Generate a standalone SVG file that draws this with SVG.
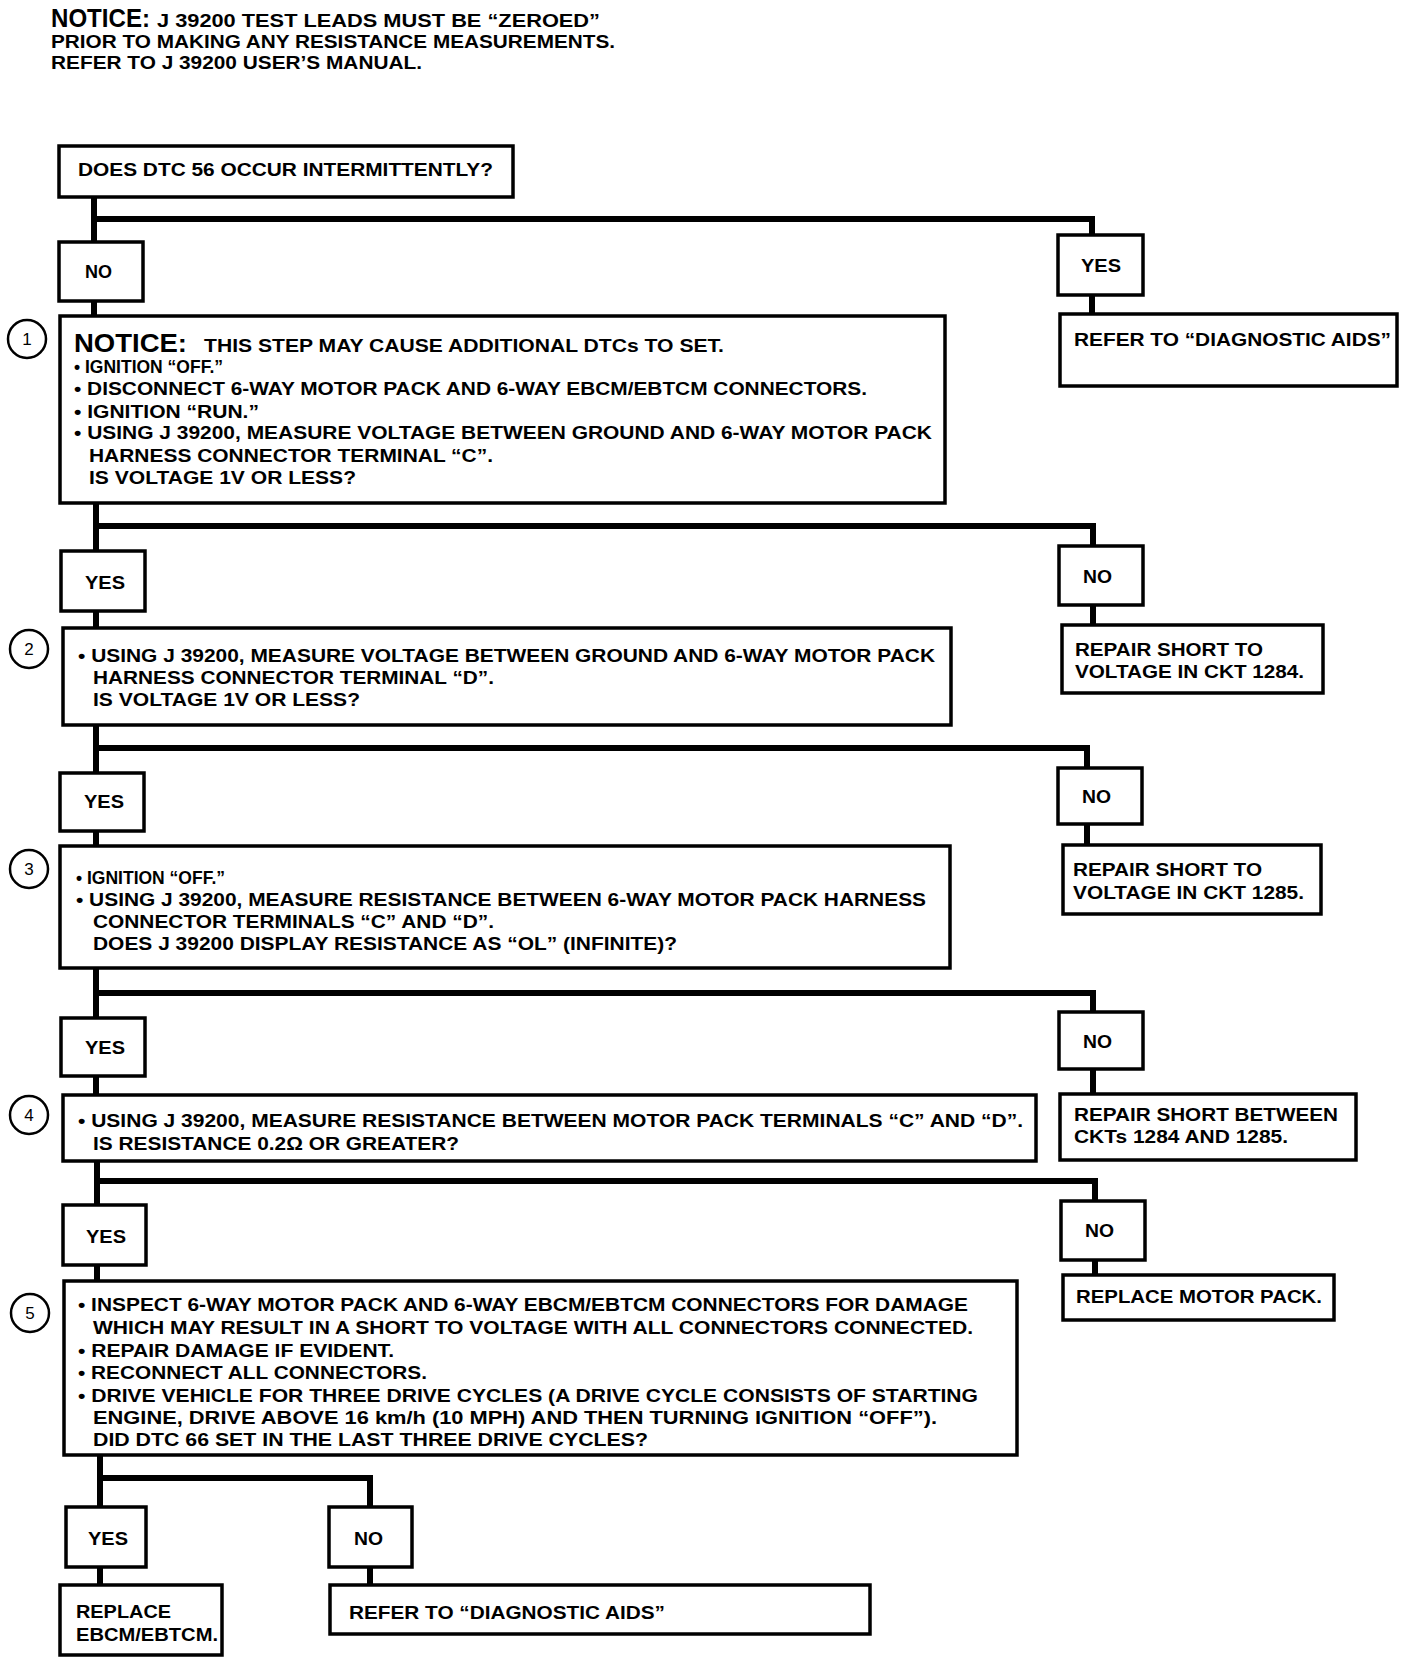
<svg xmlns="http://www.w3.org/2000/svg" width="1408" height="1662" viewBox="0 0 1408 1662">
<style>
.bx{fill:#fff;stroke:#000;stroke-width:3.5}
.cn{fill:none;stroke:#000;stroke-width:6}
.t{font-family:"Liberation Sans",Arial,sans-serif;font-weight:bold;font-size:18px;fill:#000}
.big{font-family:"Liberation Sans",Arial,sans-serif;font-weight:bold;font-size:25px;fill:#000}
.num{font-family:"Liberation Sans",Arial,sans-serif;font-size:17px;fill:#000}
.cir{fill:#fff;stroke:#000;stroke-width:2.5}
</style>
<rect width="1408" height="1662" fill="#fff"/>

<g id="notice">
<text class="big" x="51" y="27" textLength="99" lengthAdjust="spacingAndGlyphs">NOTICE:</text>
<text class="t" x="157" y="27" textLength="443" lengthAdjust="spacingAndGlyphs">J 39200 TEST LEADS MUST BE “ZEROED”</text>
<text class="t" x="51" y="48" textLength="564" lengthAdjust="spacingAndGlyphs">PRIOR TO MAKING ANY RESISTANCE MEASUREMENTS.</text>
<text class="t" x="51" y="69" textLength="371" lengthAdjust="spacingAndGlyphs">REFER TO J 39200 USER’S MANUAL.</text>
</g>

<g id="connectors">
<path class="cn" d="M94 197 V242"/>
<path class="cn" d="M94 219 H1092 V235"/>
<path class="cn" d="M1092 295 V314"/>
<path class="cn" d="M94 301 V316"/>
<path class="cn" d="M96 503 V551"/>
<path class="cn" d="M96 526 H1093 V546"/>
<path class="cn" d="M1093 605 V625"/>
<path class="cn" d="M96 611 V628"/>
<path class="cn" d="M96 725 V773"/>
<path class="cn" d="M96 748 H1087 V768"/>
<path class="cn" d="M1087 824 V845"/>
<path class="cn" d="M96 831 V846"/>
<path class="cn" d="M96 968 V1018"/>
<path class="cn" d="M96 993 H1093 V1012"/>
<path class="cn" d="M1093 1069 V1094"/>
<path class="cn" d="M96 1076 V1095"/>
<path class="cn" d="M97 1161 V1205"/>
<path class="cn" d="M97 1181 H1095 V1201"/>
<path class="cn" d="M1095 1260 V1275"/>
<path class="cn" d="M97 1265 V1281"/>
<path class="cn" d="M100 1455 V1507"/>
<path class="cn" d="M100 1478 H370 V1507"/>
<path class="cn" d="M100 1567 V1585"/>
<path class="cn" d="M370 1567 V1585"/>
</g>

<g id="q0">
<rect class="bx" x="59" y="146" width="454" height="51"/>
<text class="t" x="78" y="176" textLength="415" lengthAdjust="spacingAndGlyphs">DOES DTC 56 OCCUR INTERMITTENTLY?</text>
</g>

<g id="no1">
<rect class="bx" x="59" y="242" width="84" height="59"/>
<text class="t" x="85" y="278" textLength="27" lengthAdjust="spacingAndGlyphs">NO</text>
</g>

<g id="yes1">
<rect class="bx" x="1058" y="235" width="85" height="60"/>
<text class="t" x="1081" y="272" textLength="40" lengthAdjust="spacingAndGlyphs">YES</text>
</g>

<g id="aids1">
<rect class="bx" x="1060" y="314" width="337" height="72"/>
<text class="t" x="1074" y="346" textLength="317" lengthAdjust="spacingAndGlyphs">REFER TO “DIAGNOSTIC AIDS”</text>
</g>

<g id="step1">
<circle class="cir" cx="27" cy="339" r="19"/>
<text class="num" x="27" y="345" text-anchor="middle">1</text>
<rect class="bx" x="60" y="316" width="885" height="187"/>
<text class="big" x="74" y="352" textLength="113" lengthAdjust="spacingAndGlyphs">NOTICE:</text>
<text class="t" x="204" y="352" textLength="520" lengthAdjust="spacingAndGlyphs">THIS STEP MAY CAUSE ADDITIONAL DTCs TO SET.</text>
<text class="t" x="74" y="373" textLength="149" lengthAdjust="spacingAndGlyphs">• IGNITION “OFF.”</text>
<text class="t" x="74" y="395" textLength="793" lengthAdjust="spacingAndGlyphs">• DISCONNECT 6-WAY MOTOR PACK AND 6-WAY EBCM/EBTCM CONNECTORS.</text>
<text class="t" x="74" y="418" textLength="185" lengthAdjust="spacingAndGlyphs">• IGNITION “RUN.”</text>
<text class="t" x="74" y="439" textLength="858" lengthAdjust="spacingAndGlyphs">• USING J 39200, MEASURE VOLTAGE BETWEEN GROUND AND 6-WAY MOTOR PACK</text>
<text class="t" x="89" y="462" textLength="404" lengthAdjust="spacingAndGlyphs">HARNESS CONNECTOR TERMINAL “C”.</text>
<text class="t" x="89" y="484" textLength="267" lengthAdjust="spacingAndGlyphs">IS VOLTAGE 1V OR LESS?</text>
</g>

<g id="yes2">
<rect class="bx" x="61" y="551" width="84" height="60"/>
<text class="t" x="85" y="589" textLength="40" lengthAdjust="spacingAndGlyphs">YES</text>
</g>

<g id="no2">
<rect class="bx" x="1059" y="546" width="84" height="59"/>
<text class="t" x="1083" y="583" textLength="29" lengthAdjust="spacingAndGlyphs">NO</text>
</g>

<g id="repair1284">
<rect class="bx" x="1062" y="625" width="261" height="68"/>
<text class="t" x="1075" y="656" textLength="188" lengthAdjust="spacingAndGlyphs">REPAIR SHORT TO</text>
<text class="t" x="1075" y="678" textLength="229" lengthAdjust="spacingAndGlyphs">VOLTAGE IN CKT 1284.</text>
</g>

<g id="step2">
<circle class="cir" cx="29" cy="649" r="19"/>
<text class="num" x="29" y="655" text-anchor="middle">2</text>
<rect class="bx" x="63" y="628" width="888" height="97"/>
<text class="t" x="78" y="662" textLength="857" lengthAdjust="spacingAndGlyphs">• USING J 39200, MEASURE VOLTAGE BETWEEN GROUND AND 6-WAY MOTOR PACK</text>
<text class="t" x="93" y="684" textLength="401" lengthAdjust="spacingAndGlyphs">HARNESS CONNECTOR TERMINAL “D”.</text>
<text class="t" x="93" y="706" textLength="267" lengthAdjust="spacingAndGlyphs">IS VOLTAGE 1V OR LESS?</text>
</g>

<g id="yes3">
<rect class="bx" x="60" y="773" width="84" height="58"/>
<text class="t" x="84" y="808" textLength="40" lengthAdjust="spacingAndGlyphs">YES</text>
</g>

<g id="no3">
<rect class="bx" x="1058" y="768" width="84" height="56"/>
<text class="t" x="1082" y="803" textLength="29" lengthAdjust="spacingAndGlyphs">NO</text>
</g>

<g id="repair1285">
<rect class="bx" x="1063" y="845" width="258" height="69"/>
<text class="t" x="1073" y="876" textLength="189" lengthAdjust="spacingAndGlyphs">REPAIR SHORT TO</text>
<text class="t" x="1073" y="899" textLength="231" lengthAdjust="spacingAndGlyphs">VOLTAGE IN CKT 1285.</text>
</g>

<g id="step3">
<circle class="cir" cx="29" cy="869" r="19"/>
<text class="num" x="29" y="875" text-anchor="middle">3</text>
<rect class="bx" x="60" y="846" width="890" height="122"/>
<text class="t" x="76" y="884" textLength="149" lengthAdjust="spacingAndGlyphs">• IGNITION “OFF.”</text>
<text class="t" x="76" y="906" textLength="850" lengthAdjust="spacingAndGlyphs">• USING J 39200, MEASURE RESISTANCE BETWEEN 6-WAY MOTOR PACK HARNESS</text>
<text class="t" x="93" y="928" textLength="401" lengthAdjust="spacingAndGlyphs">CONNECTOR TERMINALS “C” AND “D”.</text>
<text class="t" x="93" y="950" textLength="584" lengthAdjust="spacingAndGlyphs">DOES J 39200 DISPLAY RESISTANCE AS “OL” (INFINITE)?</text>
</g>

<g id="yes4">
<rect class="bx" x="61" y="1018" width="84" height="58"/>
<text class="t" x="85" y="1054" textLength="40" lengthAdjust="spacingAndGlyphs">YES</text>
</g>

<g id="no4">
<rect class="bx" x="1059" y="1012" width="84" height="57"/>
<text class="t" x="1083" y="1048" textLength="29" lengthAdjust="spacingAndGlyphs">NO</text>
</g>

<g id="repairBetween">
<rect class="bx" x="1060" y="1094" width="296" height="66"/>
<text class="t" x="1074" y="1121" textLength="264" lengthAdjust="spacingAndGlyphs">REPAIR SHORT BETWEEN</text>
<text class="t" x="1074" y="1143" textLength="214" lengthAdjust="spacingAndGlyphs">CKTs 1284 AND 1285.</text>
</g>

<g id="step4">
<circle class="cir" cx="29" cy="1115" r="19"/>
<text class="num" x="29" y="1121" text-anchor="middle">4</text>
<rect class="bx" x="63" y="1095" width="973" height="66"/>
<text class="t" x="78" y="1127" textLength="945" lengthAdjust="spacingAndGlyphs">• USING J 39200, MEASURE RESISTANCE BETWEEN MOTOR PACK TERMINALS “C” AND “D”.</text>
<text class="t" x="93" y="1150" textLength="366" lengthAdjust="spacingAndGlyphs">IS RESISTANCE 0.2Ω OR GREATER?</text>
</g>

<g id="yes5">
<rect class="bx" x="63" y="1205" width="83" height="60"/>
<text class="t" x="86" y="1243" textLength="40" lengthAdjust="spacingAndGlyphs">YES</text>
</g>

<g id="no5">
<rect class="bx" x="1061" y="1201" width="84" height="59"/>
<text class="t" x="1085" y="1237" textLength="29" lengthAdjust="spacingAndGlyphs">NO</text>
</g>

<g id="replaceMotor">
<rect class="bx" x="1063" y="1275" width="271" height="45"/>
<text class="t" x="1076" y="1303" textLength="246" lengthAdjust="spacingAndGlyphs">REPLACE MOTOR PACK.</text>
</g>

<g id="step5">
<circle class="cir" cx="30" cy="1313" r="19"/>
<text class="num" x="30" y="1319" text-anchor="middle">5</text>
<rect class="bx" x="64" y="1281" width="953" height="174"/>
<text class="t" x="78" y="1311" textLength="890" lengthAdjust="spacingAndGlyphs">• INSPECT 6-WAY MOTOR PACK AND 6-WAY EBCM/EBTCM CONNECTORS FOR DAMAGE</text>
<text class="t" x="93" y="1334" textLength="880" lengthAdjust="spacingAndGlyphs">WHICH MAY RESULT IN A SHORT TO VOLTAGE WITH ALL CONNECTORS CONNECTED.</text>
<text class="t" x="78" y="1357" textLength="316" lengthAdjust="spacingAndGlyphs">• REPAIR DAMAGE IF EVIDENT.</text>
<text class="t" x="78" y="1379" textLength="349" lengthAdjust="spacingAndGlyphs">• RECONNECT ALL CONNECTORS.</text>
<text class="t" x="78" y="1402" textLength="900" lengthAdjust="spacingAndGlyphs">• DRIVE VEHICLE FOR THREE DRIVE CYCLES (A DRIVE CYCLE CONSISTS OF STARTING</text>
<text class="t" x="93" y="1424" textLength="844" lengthAdjust="spacingAndGlyphs">ENGINE, DRIVE ABOVE 16 km/h (10 MPH) AND THEN TURNING IGNITION “OFF”).</text>
<text class="t" x="93" y="1446" textLength="555" lengthAdjust="spacingAndGlyphs">DID DTC 66 SET IN THE LAST THREE DRIVE CYCLES?</text>
</g>

<g id="yes6">
<rect class="bx" x="66" y="1507" width="80" height="60"/>
<text class="t" x="88" y="1545" textLength="40" lengthAdjust="spacingAndGlyphs">YES</text>
</g>

<g id="no6">
<rect class="bx" x="329" y="1507" width="83" height="60"/>
<text class="t" x="354" y="1545" textLength="29" lengthAdjust="spacingAndGlyphs">NO</text>
</g>

<g id="replaceEbcm">
<rect class="bx" x="60" y="1585" width="162" height="70"/>
<text class="t" x="76" y="1618" textLength="95" lengthAdjust="spacingAndGlyphs">REPLACE</text>
<text class="t" x="76" y="1641" textLength="142" lengthAdjust="spacingAndGlyphs">EBCM/EBTCM.</text>
</g>

<g id="aids2">
<rect class="bx" x="330" y="1585" width="540" height="49"/>
<text class="t" x="349" y="1619" textLength="316" lengthAdjust="spacingAndGlyphs">REFER TO “DIAGNOSTIC AIDS”</text>
</g>
</svg>
